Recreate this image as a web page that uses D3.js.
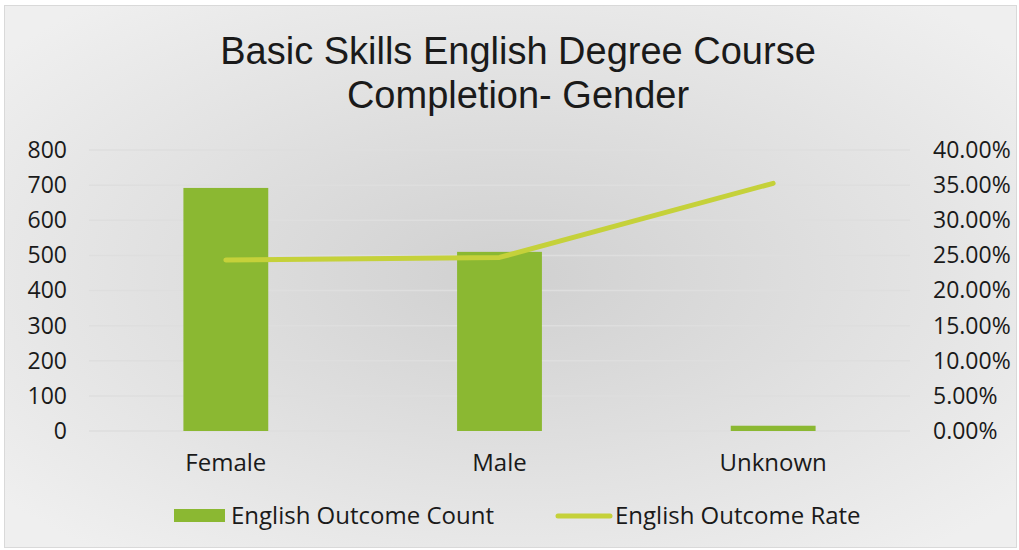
<!DOCTYPE html>
<html>
<head>
<meta charset="utf-8">
<script src="https://cdn.jsdelivr.net/npm/d3@7"></script>
<style>
	body { margin: 0; background: #fff; }
	text { font-family: "Open Sans", "Liberation Sans", sans-serif; fill: #1a1a1a; }
</style>
</head>
<body>
<svg width="1019" height="550"></svg>
<script>
// Data
const categories = ["Female", "Male", "Unknown"];
const outcomeCount = [692, 510, 15];
const outcomeRate = [0.2434, 0.2471, 0.3526];
const countTicks = [0, 100, 200, 300, 400, 500, 600, 700, 800];
const rateTicks = [0, 0.05, 0.1, 0.15, 0.2, 0.25, 0.3, 0.35, 0.4];
const titleLines = ["Basic Skills English Degree Course", "Completion- Gender"];
const seriesNames = ["English Outcome Count", "English Outcome Rate"];

const barColor = "#8bb832";
const lineColor = "#c5d13a";

const svg = d3.select("svg");

// Background with radial gradient
const defs = svg.append("defs");
const grad = defs
	.append("radialGradient")
	.attr("id", "bg")
	.attr("cx", "50%")
	.attr("cy", "50%")
	.attr("r", "65%");
grad.append("stop").attr("offset", "0%").attr("stop-color", "#d0d0d0");
grad.append("stop").attr("offset", "100%").attr("stop-color", "#efefef");

svg
	.append("rect")
	.attr("x", 4.5)
	.attr("y", 5.5)
	.attr("width", 1012)
	.attr("height", 542)
	.attr("fill", "url(#bg)")
	.attr("stroke", "#d9d9d9")
	.attr("stroke-width", 1);

const plot = { left: 89, right: 910, top: 150, bottom: 431 };

// Scales
const x = d3
	.scaleBand()
	.domain(categories)
	.range([plot.left, plot.right])
	.paddingInner(0.69)
	.paddingOuter(0.345);

const yLeft = d3.scaleLinear().domain([0, 800]).range([plot.bottom, plot.top]);
const yRight = d3.scaleLinear().domain([0, 0.4]).range([plot.bottom, plot.top]);

// Gridlines
svg
	.append("g")
	.selectAll("line")
	.data(countTicks)
	.join("line")
	.attr("x1", plot.left)
	.attr("x2", plot.right)
	.attr("y1", (d) => yLeft(d))
	.attr("y2", (d) => yLeft(d))
	.attr("stroke", "#dedede")
	.attr("stroke-width", 1.5);

// Left axis
const leftAxis = svg
	.append("g")
	.attr("transform", `translate(${plot.left - 22},0)`)
	.call(d3.axisLeft(yLeft).tickValues(countTicks).tickSize(0).tickPadding(0));
leftAxis.select(".domain").remove();
leftAxis.selectAll("text").style("font-size", "23px").attr("fill", "#1a1a1a");

// Right axis
const rightAxis = svg
	.append("g")
	.attr("transform", `translate(${plot.right + 23},0)`)
	.call(
		d3
			.axisRight(yRight)
			.tickValues(rateTicks)
			.tickFormat(d3.format(".2%"))
			.tickSize(0)
			.tickPadding(0)
	);
rightAxis.select(".domain").remove();
rightAxis.selectAll("text").style("font-size", "23px").attr("fill", "#1a1a1a");

// Bottom axis
const bottomAxis = svg
	.append("g")
	.attr("transform", `translate(0,${plot.bottom + 40})`)
	.call(d3.axisBottom(x).tickSize(0).tickPadding(0));
bottomAxis.select(".domain").remove();
bottomAxis
	.selectAll("text")
	.style("font-size", "24px")
	.attr("fill", "#1a1a1a")
	.attr("dy", "0");

// Bars
svg
	.append("g")
	.selectAll("rect")
	.data(categories)
	.join("rect")
	.attr("x", (d) => x(d))
	.attr("width", x.bandwidth())
	.attr("y", (d, i) => yLeft(outcomeCount[i]))
	.attr("height", (d, i) => yLeft(0) - yLeft(outcomeCount[i]))
	.attr("fill", barColor);

// Rate line
const line = d3
	.line()
	.x((d, i) => x(categories[i]) + x.bandwidth() / 2)
	.y((d) => yRight(d));

svg
	.append("path")
	.datum(outcomeRate)
	.attr("d", line)
	.attr("fill", "none")
	.attr("stroke", lineColor)
	.attr("stroke-width", 5)
	.attr("stroke-linecap", "round")
	.attr("stroke-linejoin", "round");

// Title
svg
	.append("g")
	.selectAll("text")
	.data(titleLines)
	.join("text")
	.attr("x", 518)
	.attr("y", (d, i) => 64 + i * 44)
	.attr("text-anchor", "middle")
	.style("font-family", "'Liberation Sans', sans-serif")
	.style("font-size", "38px")
	.text((d) => d);

// Legend
const legend = svg.append("g");
legend
	.append("rect")
	.attr("x", 174)
	.attr("y", 509)
	.attr("width", 51)
	.attr("height", 13)
	.attr("fill", barColor);
legend
	.append("text")
	.attr("x", 231)
	.attr("y", 524)
	.style("font-size", "24px")
	.text(seriesNames[0]);
legend
	.append("line")
	.attr("x1", 558)
	.attr("x2", 610)
	.attr("y1", 516)
	.attr("y2", 516)
	.attr("stroke", lineColor)
	.attr("stroke-width", 5)
	.attr("stroke-linecap", "round");
legend
	.append("text")
	.attr("x", 615)
	.attr("y", 524)
	.style("font-size", "24px")
	.text(seriesNames[1]);
</script>
</body>
</html>
